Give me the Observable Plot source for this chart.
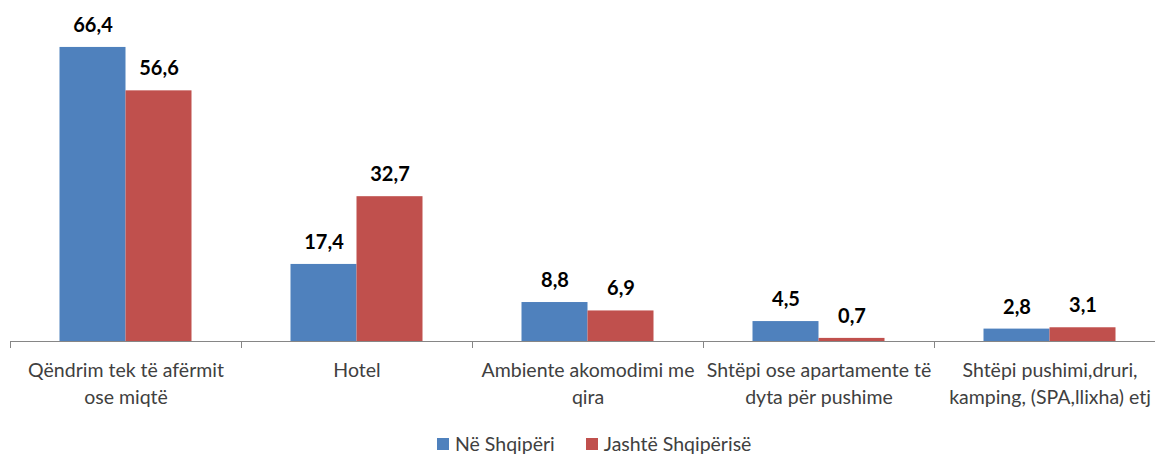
<!DOCTYPE html>
<html>
<head>
<meta charset="utf-8">
<script src="https://cdn.jsdelivr.net/npm/d3@7"></script>
<script src="https://cdn.jsdelivr.net/npm/@observablehq/plot@0.6"></script>
<style>
  html, body { margin: 0; padding: 0; background: #fff; overflow: hidden; width: 1155px; height: 455px; position: relative; }
  #chart { width: 1165px; }
  #chart svg { display: block; max-width: none !important; }
  #legend { position: absolute; left: 437px; top: 433px; display: flex; gap: 0; font-family: Lato, "Open Sans", sans-serif; font-size: 19.5px; line-height: 22px; color: #404040; white-space: nowrap; }
  #legend span.item { display: flex; align-items: center; gap: 6px; }
  #legend span.item + span.item { margin-left: 31px; }
  #legend span.sw { width: 12px; height: 12px; display: inline-block; }
</style>
</head>
<body>
<div id="chart"></div>
<div id="legend"></div>
<script>
const categories = [
  "Qëndrim tek të afërmit\nose miqtë",
  "Hotel",
  "Ambiente akomodimi me\nqira",
  "Shtëpi ose apartamente të\ndyta për pushime",
  "Shtëpi pushimi,druri,\nkamping, (SPA,llixha) etj"
];
const series = ["Në Shqipëri", "Jashtë Shqipërisë"];
const neShqiperi = [66.4, 17.4, 8.8, 4.5, 2.8];
const jashteShqiperise = [56.6, 32.7, 6.9, 0.7, 3.1];
const colors = ["#4F81BD", "#C0504D"];

const data = [];
categories.forEach((c, i) => {
  data.push({category: c, series: series[0], value: neShqiperi[i]});
  data.push({category: c, series: series[1], value: jashteShqiperise[i]});
});
const fmt = v => v.toFixed(1).replace(".", ",");

const chart = Plot.plot({
  width: 1165,
  height: 420,
  marginLeft: 10,
  marginRight: 0,
  marginTop: 31,
  marginBottom: 79,
  style: {fontFamily: "Lato, 'Open Sans', sans-serif", background: "#fff", maxWidth: "none"},
  fx: {domain: categories, padding: 0, round: false, axis: null},
  x: {domain: series, paddingInner: 0, paddingOuter: 0.75, round: false, axis: null},
  y: {domain: [0, 70], axis: null},
  color: {domain: series, range: colors},
  marks: [
    Plot.barY(data, {fx: "category", x: "series", y: "value", fill: "series"}),
    Plot.ruleY([0], {stroke: "#868686", strokeWidth: 1}),
    Plot.frame({anchor: "left", stroke: "#868686", insetTop: 304, dy: 6}),
    Plot.text(data, {fx: "category", x: "series", y: "value", text: d => fmt(d.value), dy: -22, fontWeight: "bold", fontSize: 20, fill: "#000"}),
    Plot.axisFx({anchor: "bottom", tickSize: 0, tickPadding: 17, label: null, fontSize: 19.5, lineHeight: 1.36, fill: "#404040", tickFormat: d => d})
  ]
});
document.getElementById("chart").appendChild(chart);

const legend = document.getElementById("legend");
series.forEach((s, i) => {
  const item = document.createElement("span");
  item.className = "item";
  const sw = document.createElement("span");
  sw.className = "sw";
  sw.style.background = colors[i];
  item.appendChild(sw);
  item.appendChild(document.createTextNode(s));
  legend.appendChild(item);
});
</script>
</body>
</html>
